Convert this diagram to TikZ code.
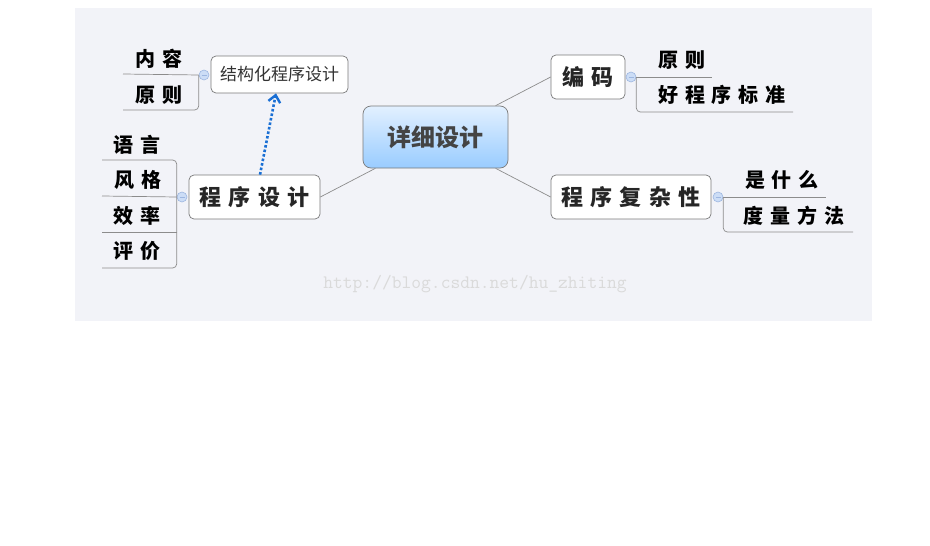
\documentclass[tikz,border=0pt]{standalone}
\usepackage{fontspec}
\newfontfamily\cjkplain{Noto Sans CJK SC}
\newfontfamily\cjkwide[LetterSpace=34]{Noto Sans CJK SC}
\usetikzlibrary{arrows.meta}
\definecolor{panelbg}{HTML}{F2F3F8}
\definecolor{linegray}{HTML}{8C8C8C}
\definecolor{boxgray}{HTML}{7A7A7A}
\definecolor{foldfill}{HTML}{CCDDF6}
\definecolor{folddraw}{HTML}{9DB6E0}
\definecolor{arrowblue}{HTML}{1A6FD4}
\definecolor{topblue}{HTML}{E2F0FF}
\definecolor{botblue}{HTML}{99CCFF}
\definecolor{centertext}{HTML}{444444}
\definecolor{wmgray}{HTML}{DADADA}
\tikzset{
	central/.style={draw=boxgray, line width=0.7pt, rounded corners=8pt, top color=topblue, bottom color=botblue, minimum width=145pt, minimum height=62pt, inner sep=2pt, text=centertext, font=\cjkplain\bfseries\fontsize{24pt}{24pt}\selectfont},
	topic/.style={draw=boxgray, fill=white, line width=0.7pt, rounded corners=5pt, minimum height=44pt, inner sep=2pt, text=black!85, font=\cjkwide\bfseries\fontsize{22pt}{22pt}\selectfont},
	subtopic/.style={draw=boxgray, fill=white, line width=0.7pt, rounded corners=5pt, minimum width=137pt, minimum height=37pt, inner sep=2pt, text=black!80, font=\cjkplain\fontsize{17pt}{17pt}\selectfont},
	leaf/.style={inner sep=0pt, font=\cjkwide\bfseries\fontsize{20pt}{20pt}\selectfont},
	branch/.style={draw=linegray, line width=0.7pt},
	leafline/.style={draw=linegray, line width=0.7pt, rounded corners=4pt},
	fold/.style={circle, minimum size=10pt, inner sep=0pt, fill=foldfill, draw=folddraw, line width=0.6pt},
	foldmark/.style={draw=folddraw, line width=0.6pt},
	wmark/.style={text=wmgray, font=\ttfamily\fontsize{19pt}{19pt}\selectfont}
}
\begin{document}
\begin{tikzpicture}[x=1pt, y=-1pt]
\useasboundingbox (0,0) rectangle (930,546);
\fill[panelbg] (75,8) rectangle (872,321);
\node[wmark] (wm) at (475,284) {http://blog.csdn.net/hu\_zhiting};
% topics
\node[central] (xxsj) at (435.5,137) {详细设计};
\node[topic, minimum width=74pt] (bm) at (588,77) {编码};
\node[topic, minimum width=160pt] (fzx) at (631,197) {程序复杂性};
\node[topic, minimum width=131pt] (cxsj) at (254.5,197) {程序设计};
\node[subtopic] (jgh) at (279.5,74.5) {结构化程序设计};
\draw[branch] (xxsj) -- (bm.west);
\draw[branch] (xxsj) -- (fzx.west);
\draw[branch] (xxsj) -- (cxsj.east);
\draw[arrowblue, line width=2.6pt, dash pattern=on 2.6pt off 2pt, -{Straight Barb[length=7pt, width=12pt, line width=2.4pt]}]
	([xshift=5.5pt]cxsj.north) -- ([xshift=-3.5pt]jgh.south);
% fold buttons
\node[fold] (f1) at (631,77) {};
\node[fold] (f2) at (718,197) {};
\node[fold] (f3) at (182,197) {};
\node[fold] (f4) at (204,75) {};
\foreach \f in {f1,f2,f3,f4}{
	\draw[foldmark] ([xshift=-2.5pt]\f.center) -- ([xshift=2.5pt]\f.center);
}
% leaves
\draw[leafline] (f1.east) -- (712,77);
\draw[leafline] (f1.east) |- (793,112);
\node[leaf] (yz1) at (682,60) {原则};
\node[leaf] (hcx) at (722,95) {好程序标准};
\draw[leafline] (f2.east) -- (826,197);
\draw[leafline] (f2.east) |- (853,232);
\node[leaf] (ssm) at (782,180) {是什么};
\node[leaf] (dlf) at (794,216) {度量方法};
\draw[leafline] (f3.west) -- (102,196);
\draw[leafline] (f3.west) |- (102,160);
\draw[leafline] (f3.west) |- (102,268);
\draw[leafline] (177,232) -- (102,232);
\node[leaf] (yy) at (137,145) {语言};
\node[leaf] (fg) at (138,180) {风格};
\node[leaf] (xl) at (137,216) {效率};
\node[leaf] (pj) at (137,251) {评价};
\draw[leafline] (f4.west) -- (123,74);
\draw[leafline] (f4.west) |- (123,110);
\node[leaf] (nr) at (159,59) {内容};
\node[leaf] (yz2) at (159,95) {原则};
\end{tikzpicture}
\end{document}
